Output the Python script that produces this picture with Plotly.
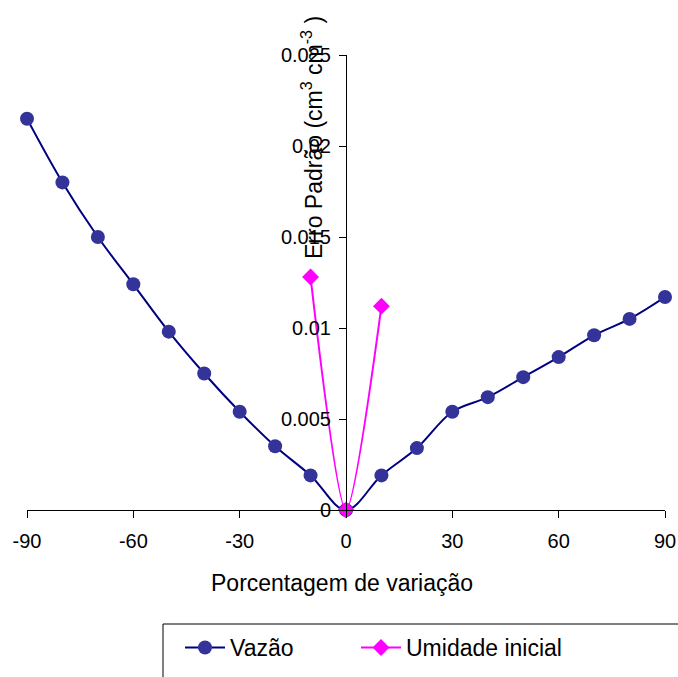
import plotly.graph_objects as go

# Sensitivity of the standard error to parameter variation
variacao = [-90, -80, -70, -60, -50, -40, -30, -20, -10, 0, 10, 20, 30, 40, 50, 60, 70, 80, 90]
erro_vazao = [0.0215, 0.0180, 0.0150, 0.0124, 0.0098, 0.0075, 0.0054, 0.0035, 0.0019, 0.0,
              0.0019, 0.0034, 0.0054, 0.0062, 0.0073, 0.0084, 0.0096, 0.0105, 0.0117]

variacao_umidade = [-10, 0, 10]
erro_umidade = [0.0128, 0.0, 0.0112]

x_ticks = [-90, -60, -30, 0, 30, 60, 90]
x_ticktext = ["-90", "-60", "-30", "0", "30", "60", "90"]
y_ticks = [0, 0.005, 0.01, 0.015, 0.02, 0.025]
y_ticktext = ["0", "0.005", "0.01", "0.015", "0.02", "0.025"]

W, H = 678, 677
ML, MR, MT, MB = 27, 13, 55, 167
PW, PH = W - ML - MR, H - MT - MB
FONT = "Liberation Sans, Arial, sans-serif"


def px_to_paper(px, py):
    return (px - ML) / PW, (H - MB - py) / PH


fig = go.Figure()
fig.add_trace(go.Scatter(
    x=variacao, y=erro_vazao, name="Vazão", mode="lines+markers",
    line=dict(color="#000080", width=2, shape="spline", smoothing=1),
    marker=dict(symbol="circle", size=14, color="#333399", line=dict(width=0)),
    cliponaxis=False, legend="legend",
))
fig.add_trace(go.Scatter(
    x=variacao_umidade, y=erro_umidade, name="Umidade inicial", mode="lines+markers",
    line=dict(color="#FF00FF", width=2, shape="spline", smoothing=0.7),
    marker=dict(symbol="diamond", size=13, color="#FF00FF", line=dict(width=0)),
    cliponaxis=False, legend="legend2",
))

# legend frame (runs past the right and bottom edges)
bx0, by0 = px_to_paper(163, 624)
bx1, by1 = px_to_paper(700, 720)
fig.add_shape(type="rect", xref="paper", yref="paper", x0=bx0, y0=by1, x1=bx1, y1=by0,
              line=dict(color="#000000", width=1), fillcolor="rgba(0,0,0,0)", layer="above")

tx, ty = px_to_paper(312, 138)
fig.add_annotation(xref="paper", yref="paper", x=tx, y=ty, textangle=-90, showarrow=False,
                   text="Erro Padrão (cm<sup>3</sup> cm<sup>-3</sup> )",
                   font=dict(family=FONT, size=23, color="#000000"),
                   xanchor="center", yanchor="middle")
xx, xy = px_to_paper(342, 583)
fig.add_annotation(xref="paper", yref="paper", x=xx, y=xy, showarrow=False,
                   text="Porcentagem de variação",
                   font=dict(family=FONT, size=23, color="#000000"),
                   xanchor="center", yanchor="middle")

legend_style = dict(
    orientation="h", xref="container", yref="container", xanchor="left", yanchor="top",
    font=dict(family=FONT, size=23, color="#000000"),
    bgcolor="rgba(0,0,0,0)", borderwidth=0, itemwidth=40,
)

fig.update_layout(
    width=W, height=H,
    margin=dict(l=ML, r=MR, t=MT, b=MB, pad=0, autoexpand=False),
    paper_bgcolor="white", plot_bgcolor="white",
    font=dict(family=FONT, size=20, color="#000000"),
    showlegend=True,
    legend=dict(x=180 / W, y=1 - 626 / H, **legend_style),
    legend2=dict(x=356 / W, y=1 - 626 / H, **legend_style),
    xaxis=dict(
        range=[-90, 90], tickvals=x_ticks, ticktext=x_ticktext, ticks="outside", ticklen=7,
        tickcolor="#000000", showline=True, linecolor="#000000", linewidth=1,
        showgrid=False, zeroline=False, tickfont=dict(size=20), ticklabelstandoff=6,
    ),
    yaxis=dict(
        range=[0, 0.025], tickvals=y_ticks, ticktext=y_ticktext, ticks="outside", ticklen=7,
        tickcolor="#000000", showline=True, linecolor="#000000", linewidth=1,
        showgrid=False, zeroline=False, anchor="free", position=0.5, side="left",
        tickfont=dict(size=20), ticklabelstandoff=4,
    ),
)

fig.write_html("out.html")
